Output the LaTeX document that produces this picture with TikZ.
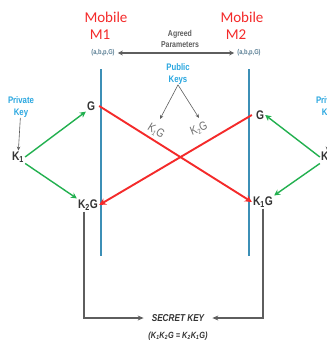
\documentclass[tikz,border=0pt]{standalone}
\usepackage{fontspec}
\setmainfont{Liberation Sans}
\newfontfamily\narrowfont[FakeStretch=0.82]{Liberation Sans}
\newfontfamily\mobfont{Carlito}
\usetikzlibrary{arrows.meta}
\definecolor{keyred}{HTML}{F42A2A}
\definecolor{keygreen}{HTML}{22B04F}
\definecolor{barblue}{HTML}{3C8FB6}
\definecolor{txtblue}{HTML}{2AA7E0}
\definecolor{pargray}{HTML}{5A7F95}
\definecolor{linegray}{HTML}{5E5E5E}
\definecolor{lblgray}{HTML}{707070}
\newcommand{\lowdigit}[1]{\raisebox{-0.15em}{\fontsize{7}{7}\selectfont#1}}
\tikzset{
  mob/.style={font=\mobfont\fontsize{15}{15}\selectfont, text=keyred, inner sep=0pt},
  param/.style={font=\narrowfont\bfseries\fontsize{7}{7}\selectfont, text=pargray, inner sep=1pt},
  small/.style={font=\narrowfont\bfseries\fontsize{8.5}{11.5}\selectfont, text=linegray, inner sep=0pt, align=center},
  bluetxt/.style={font=\narrowfont\bfseries\fontsize{9.5}{12.5}\selectfont, text=txtblue, inner sep=0pt, align=center},
  big/.style={font=\narrowfont\bfseries\fontsize{12.5}{12.5}\selectfont, text=black!80, inner sep=1pt},
  rotlbl/.style={font=\narrowfont\fontsize{12}{12}\selectfont, text=lblgray, inner sep=0pt},
  secret/.style={font=\narrowfont\bfseries\itshape\fontsize{10}{10}\selectfont, text=black!80, inner sep=0pt},
  bar/.style={draw=barblue, line width=2.6pt},
  redarrow/.style={draw=keyred, line width=1.9pt, -{Stealth[length=7pt,width=7pt]}},
  greenarrow/.style={draw=keygreen, line width=1.4pt, -{Stealth[length=6pt,width=6pt]}},
  grayarrow/.style={draw=linegray, line width=0.6pt, -{Stealth[length=4pt,width=3.5pt]}},
  baseline/.style={draw=linegray, line width=1.3pt, -{Stealth[length=6pt,width=5pt]}},
  paramarrow/.style={draw=linegray, line width=1.3pt, {Stealth[length=5pt,width=5pt]}-{Stealth[length=5pt,width=5pt]}}
}
\begin{document}
\begin{tikzpicture}[x=1pt,y=-1pt]
\useasboundingbox (0,0) rectangle (327,341);
\clip (0,0) rectangle (327,341);
\fill[white] (0,0) rectangle (327,341);

% mobile captions
\node[mob] (m1a) at (106,17) {Mobile};
\node[mob] (m1b) at (100,35) {M1};
\node[mob] (m2a) at (242,17) {Mobile};
\node[mob] (m2b) at (236,35) {M2};

% agreed parameters
\node[param] (p1) at (103,53) {(a,b,p,G)};
\node[param] (p2) at (249,53) {(a,b,p,G)};
\node[small] (agreed) at (180,39) {Agreed\\Parameters};
\draw[paramarrow] ([xshift=2pt]p1.east) -- ([xshift=-2pt]p2.west);

% the two mobile time lines
\coordinate (t1) at (101,69);
\coordinate (b1) at (101,256);
\coordinate (t2) at (249,69);
\coordinate (b2) at (249,256);
\draw[bar] (t1) -- (b1);
\draw[bar] (t2) -- (b2);

% values held by each side
\node[big] (G1) at (91,106) {G};
\node[big] (KG1) at (88,205) {K\textsubscript{2}G};
\node[big] (G2) at (260,115) {G};
\node[big] (KG2) at (263,202) {K\textsubscript{1}G};

% private keys
\node[bluetxt] (pk1) at (21,107) {Private\\Key};
\node[big] (K1) at (18,157) {K\textsubscript{1}};
\draw[grayarrow] (pk1) -- (K1);
\node[bluetxt] (pk2) at (329,107) {Private\\Key};
\node[big] (K2) at (327,157) {K\textsubscript{2}};
\draw[grayarrow] (pk2) -- (K2);

% public keys
\node[bluetxt] (pub) at (178,74) {Public\\Keys};
\coordinate (pubL) at (160,119);
\coordinate (pubR) at (199,118);
\draw[grayarrow] (pub.south) -- (pubL);
\draw[grayarrow] (pub.south) -- (pubR);
\node[rotlbl, rotate=-32] (lbl1) at (156,131) {K\lowdigit{1}G};
\node[rotlbl, rotate=22] (lbl2) at (199,129) {K\lowdigit{2}G};

% key generation
\draw[greenarrow] (K1.east) -- (G1.south west);
\draw[greenarrow] (K1.south east) -- (KG1.north west);
\draw[greenarrow] (K2.west) -- (G2.east);
\draw[greenarrow] (K2.south west) -- (KG2.north east);

% exchange of public keys
\draw[redarrow] ([xshift=3pt]G1.east) -- (KG2.west);
\draw[redarrow] ([xshift=-3pt]G2.west) -- (KG1.east);

% shared secret
\node[secret] (sk) at (178,318) {SECRET KEY};
\node[secret, font=\narrowfont\bfseries\itshape\fontsize{9}{9}\selectfont] (eq) at (178,336) {(K\textsubscript{1}K\textsubscript{2}G = K\textsubscript{2}K\textsubscript{1}G)};
\draw[baseline] ([xshift=-4pt]KG1.south) |- ([xshift=-8pt]sk.west);
\draw[baseline] (KG2.south) |- ([xshift=8pt]sk.east);
\end{tikzpicture}
\end{document}
